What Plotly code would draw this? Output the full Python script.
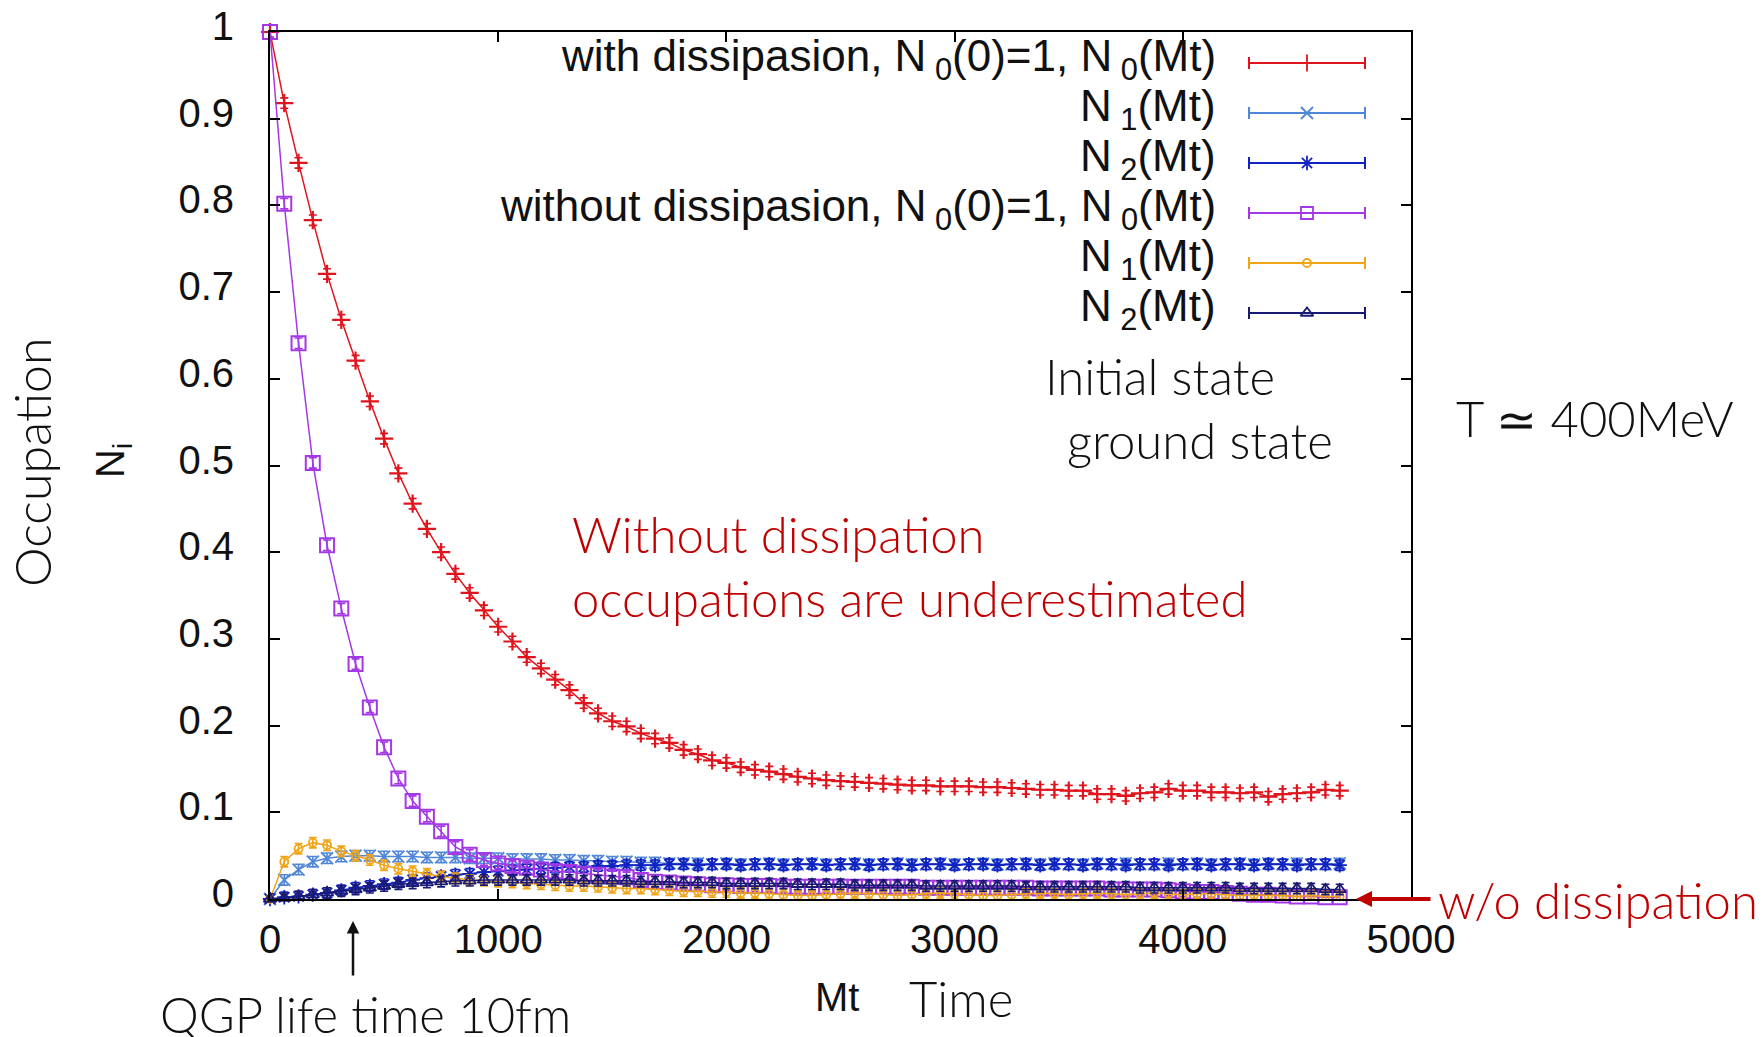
import plotly.graph_objects as go

# ---------------------------------------------------------------- data
# time grid (Mt)
t = [0, 62.5, 125, 187.5, 250, 312.5, 375, 437.5, 500, 562.5,
     625, 687.5, 750, 812.5, 875, 937.5, 1000, 1062.5, 1125, 1187.5,
     1250, 1312.5, 1375, 1437.5, 1500, 1562.5, 1625, 1687.5, 1750, 1812.5,
     1875, 1937.5, 2000, 2062.5, 2125, 2187.5, 2250, 2312.5, 2375, 2437.5,
     2500, 2562.5, 2625, 2687.5, 2750, 2812.5, 2875, 2937.5, 3000, 3062.5,
     3125, 3187.5, 3250, 3312.5, 3375, 3437.5, 3500, 3562.5, 3625, 3687.5,
     3750, 3812.5, 3875, 3937.5, 4000, 4062.5, 4125, 4187.5, 4250, 4312.5,
     4375, 4437.5, 4500, 4562.5, 4625, 4687.5]

# with dissipation
n0_diss = [1.000, 0.918, 0.849, 0.783, 0.721, 0.668, 0.621, 0.574, 0.531, 0.491,
           0.456, 0.427, 0.400, 0.375, 0.353, 0.333, 0.314, 0.297, 0.279, 0.266,
           0.253, 0.241, 0.226, 0.214, 0.205, 0.199, 0.191, 0.185, 0.180, 0.172,
           0.167, 0.160, 0.157, 0.152, 0.149, 0.147, 0.144, 0.141, 0.139, 0.137,
           0.136, 0.135, 0.134, 0.133, 0.132, 0.131, 0.131, 0.130, 0.130, 0.130,
           0.129, 0.129, 0.128, 0.127, 0.126, 0.126, 0.125, 0.125, 0.121, 0.121,
           0.119, 0.122, 0.123, 0.127, 0.125, 0.125, 0.123, 0.123, 0.122, 0.123,
           0.118, 0.121, 0.122, 0.123, 0.126, 0.125]
n1_diss = [0.000, 0.022, 0.034, 0.043, 0.047, 0.049, 0.050, 0.050, 0.049, 0.049,
           0.049, 0.048, 0.048, 0.048, 0.047, 0.047, 0.047, 0.046, 0.046, 0.046,
           0.045, 0.045, 0.044, 0.044, 0.043, 0.043, 0.042, 0.042, 0.041, 0.041,
           0.041, 0.040, 0.041, 0.040, 0.040, 0.041, 0.040, 0.040, 0.041, 0.040,
           0.040, 0.041, 0.040, 0.040, 0.041, 0.040, 0.040, 0.041, 0.040, 0.040,
           0.041, 0.040, 0.040, 0.041, 0.040, 0.041, 0.040, 0.040, 0.041, 0.040,
           0.041, 0.040, 0.040, 0.041, 0.040, 0.041, 0.040, 0.040, 0.041, 0.040,
           0.041, 0.040, 0.041, 0.040, 0.040, 0.041]
n2_diss = [0.000, 0.002, 0.003, 0.005, 0.007, 0.010, 0.013, 0.015, 0.017, 0.019,
           0.022, 0.024, 0.026, 0.028, 0.029, 0.031, 0.032, 0.033, 0.034, 0.035,
           0.036, 0.037, 0.037, 0.038, 0.038, 0.039, 0.039, 0.039, 0.040, 0.040,
           0.039, 0.040, 0.040, 0.039, 0.040, 0.040, 0.039, 0.040, 0.040, 0.039,
           0.040, 0.040, 0.039, 0.040, 0.040, 0.039, 0.040, 0.040, 0.039, 0.040,
           0.040, 0.039, 0.040, 0.040, 0.039, 0.040, 0.040, 0.039, 0.040, 0.040,
           0.039, 0.040, 0.040, 0.039, 0.040, 0.040, 0.039, 0.040, 0.040, 0.039,
           0.040, 0.040, 0.039, 0.040, 0.040, 0.039]

# without dissipation
n0_free = [1.000, 0.802, 0.641, 0.503, 0.408, 0.335, 0.271, 0.221, 0.175, 0.139,
           0.113, 0.095, 0.078, 0.060, 0.051, 0.045, 0.041, 0.038, 0.036, 0.034,
           0.032, 0.031, 0.029, 0.028, 0.026, 0.025, 0.022, 0.020, 0.019, 0.018,
           0.017, 0.016, 0.016, 0.015, 0.015, 0.015, 0.014, 0.014, 0.014, 0.014,
           0.014, 0.014, 0.014, 0.014, 0.014, 0.014, 0.013, 0.013, 0.013, 0.013,
           0.013, 0.013, 0.013, 0.013, 0.012, 0.012, 0.012, 0.012, 0.012, 0.011,
           0.011, 0.011, 0.011, 0.010, 0.009, 0.008, 0.008, 0.007, 0.006, 0.005,
           0.005, 0.004, 0.003, 0.003, 0.002, 0.002]
n1_free = [0.000, 0.043, 0.058, 0.065, 0.062, 0.055, 0.050, 0.045, 0.039, 0.035,
           0.032, 0.029, 0.026, 0.024, 0.022, 0.021, 0.020, 0.019, 0.018, 0.017,
           0.016, 0.015, 0.015, 0.014, 0.013, 0.012, 0.012, 0.011, 0.010, 0.009,
           0.009, 0.008, 0.008, 0.007, 0.007, 0.006, 0.005, 0.004, 0.004, 0.005,
           0.006, 0.007, 0.006, 0.005, 0.004, 0.005, 0.006, 0.007, 0.006, 0.005,
           0.004, 0.004, 0.005, 0.006, 0.007, 0.006, 0.005, 0.006, 0.007, 0.006,
           0.005, 0.006, 0.007, 0.006, 0.005, 0.006, 0.006, 0.005, 0.004, 0.005,
           0.004, 0.004, 0.003, 0.004, 0.003, 0.003]
n2_free = [0.000, 0.001, 0.003, 0.005, 0.007, 0.009, 0.011, 0.013, 0.015, 0.017,
           0.018, 0.019, 0.020, 0.021, 0.021, 0.022, 0.022, 0.022, 0.022, 0.022,
           0.022, 0.022, 0.021, 0.021, 0.021, 0.021, 0.020, 0.020, 0.020, 0.019,
           0.019, 0.019, 0.018, 0.018, 0.018, 0.018, 0.018, 0.017, 0.017, 0.017,
           0.017, 0.016, 0.016, 0.016, 0.016, 0.016, 0.015, 0.015, 0.015, 0.015,
           0.015, 0.015, 0.015, 0.014, 0.014, 0.014, 0.014, 0.014, 0.014, 0.014,
           0.014, 0.013, 0.013, 0.013, 0.013, 0.013, 0.013, 0.013, 0.012, 0.012,
           0.012, 0.012, 0.012, 0.012, 0.011, 0.011]

err_bar = 0.006  # half-height of the error bars

series_labels = [
    "with dissipasion, N<sub> 0</sub>(0)=1, N<sub> 0</sub>(Mt)",
    "N<sub> 1</sub>(Mt)",
    "N<sub> 2</sub>(Mt)",
    "without dissipasion, N<sub> 0</sub>(0)=1, N<sub> 0</sub>(Mt)",
    "N<sub> 1</sub>(Mt)",
    "N<sub> 2</sub>(Mt)",
]

x_ticks = [0, 1000, 2000, 3000, 4000, 5000]
x_ticktext = ["0", "1000", "2000", "3000", "4000", "5000"]
y_ticks = [0, 0.1, 0.2, 0.3, 0.4, 0.5, 0.6, 0.7, 0.8, 0.9, 1.0]
y_ticktext = ["0", "0.1", "0.2", "0.3", "0.4", "0.5", "0.6", "0.7", "0.8", "0.9", "1"]

# ---------------------------------------------------------------- styling
W, H = 1764, 1037
X0, X1, Y0, Y1 = 270, 1411, 32, 899          # plot area in pixels
XMAX, YMAX = 5000, 1.0

series = [n0_diss, n1_diss, n2_diss, n0_free, n1_free, n2_free]
colors = ["#e0141c", "#4f86d8", "#1222c0", "#a438e6", "#f0a418", "#1a1a72"]
symbols = ["cross-thin-open", "x-thin-open", "asterisk-open",
           "square-open", "circle-open", "triangle-up-open"]
sizes = [13, 12, 12, 14, 8, 11]
mwidths = [2.2, 1.8, 1.8, 2.0, 1.8, 1.8]

SANS = "Liberation Sans, Arial, sans-serif"
LIGHT = "Lato, DejaVu Sans, sans-serif"


def fx(px):
    return (px - X0) / (X1 - X0)


def fy(py):
    return (Y1 - py) / (Y1 - Y0)


fig = go.Figure()

for vals, col, sym, sz, mw, lab in zip(series, colors, symbols, sizes, mwidths, series_labels):
    fig.add_trace(go.Scatter(
        x=t, y=vals, mode="lines+markers", name=lab, showlegend=False,
        cliponaxis=False,
        line=dict(color=col, width=1.5),
        marker=dict(symbol=sym, size=sz, color=col, line=dict(color=col, width=mw)),
        error_y=dict(type="constant", value=err_bar, color=col, thickness=1.6, width=4),
    ))

# key: right-aligned labels with error-line samples
row_y = [63, 113, 163, 213, 263, 313]
LX0, LX1, LXM = 1249, 1365, 1307
for i, (col, sym, sz, lab) in enumerate(zip(colors, symbols, sizes, series_labels)):
    yy = row_y[i]
    fig.add_annotation(xref="paper", yref="paper", x=fx(1218), y=fy(yy - 4),
                       xanchor="right", yanchor="middle", text=lab, showarrow=False,
                       font=dict(family=SANS, size=44, color="#111111"))
    fig.add_shape(type="line", xref="paper", yref="paper",
                  x0=fx(LX0), x1=fx(LX1), y0=fy(yy), y1=fy(yy),
                  line=dict(color=col, width=2))
    for cx in (LX0, LX1):
        fig.add_shape(type="line", xref="paper", yref="paper",
                      x0=fx(cx), x1=fx(cx), y0=fy(yy - 6), y1=fy(yy + 6),
                      line=dict(color=col, width=2))
    fig.add_trace(go.Scatter(
        x=[fx(LXM) * XMAX], y=[fy(yy) * YMAX], mode="markers", showlegend=False,
        cliponaxis=False,
        marker=dict(symbol=sym, size=min(sz, 12), color=col, line=dict(color=col, width=1.8)),
    ))

# ---------------------------------------------------------------- notes
notes = [
    ("Initial state", 1044, 376, "#111111"),
    ("ground state", 1066, 440, "#111111"),
    ("T \u2243 400MeV", 1455, 418, "#111111"),
    ("Without dissipation", 571, 534, "#c00000"),
    ("occupations are underestimated", 571, 598, "#c00000"),
    ("w/o dissipation", 1437, 900, "#c00000"),
    ("QGP life time 10fm", 159, 1014, "#111111"),
    ("Time", 908, 998, "#111111"),
]
for txt, px, py, col in notes:
    fig.add_annotation(xref="paper", yref="paper", x=fx(px), y=fy(py),
                       xanchor="left", yanchor="middle", text=txt, showarrow=False,
                       borderpad=0,
                       font=dict(family=LIGHT, size=49, color=col, weight=300))

fig.add_annotation(xref="paper", yref="paper", x=fx(837), y=fy(997),
                   xanchor="center", yanchor="middle", text="Mt", showarrow=False,
                   font=dict(family=SANS, size=40, color="#111111"))
fig.add_annotation(xref="paper", yref="paper", x=fx(32), y=fy(463),
                   xanchor="center", yanchor="middle", text="Occupation",
                   textangle=-90, showarrow=False,
                   font=dict(family=LIGHT, size=50, color="#111111", weight=300))
fig.add_annotation(xref="paper", yref="paper", x=fx(113), y=fy(461),
                   xanchor="center", yanchor="middle", text="N<sub>i</sub>",
                   textangle=-90, showarrow=False,
                   font=dict(family=SANS, size=40, color="#111111"))

# arrows
fig.add_annotation(xref="paper", yref="paper", x=fx(353), y=fy(921), ax=0, ay=56,
                   text="", showarrow=True, arrowhead=2, arrowsize=1,
                   arrowwidth=2.5, arrowcolor="#111111")
fig.add_annotation(xref="paper", yref="paper", x=fx(1356), y=fy(899), ax=76, ay=0,
                   text="", showarrow=True, arrowhead=2, arrowsize=0.8,
                   arrowwidth=4, arrowcolor="#c00000")

axis_common = dict(showline=True, linecolor="black", linewidth=2, mirror="ticks",
                   ticks="inside", ticklen=10, tickwidth=2, tickcolor="black",
                   showgrid=False, zeroline=False, automargin=False,
                   tickfont=dict(family=SANS, size=40, color="#111111"))

fig.update_layout(
    width=W, height=H, autosize=False,
    margin=dict(l=X0, r=W - X1, t=Y0, b=H - Y1, pad=0, autoexpand=False),
    paper_bgcolor="white", plot_bgcolor="white",
    xaxis=dict(range=[0, XMAX], tickvals=x_ticks, ticktext=x_ticktext,
               ticklabelstandoff=4, **axis_common),
    yaxis=dict(range=[0, YMAX], tickvals=y_ticks, ticktext=y_ticktext,
               ticklabelstandoff=26, ticklabelshift=-6, **axis_common),
)

fig.write_html("out.html")
